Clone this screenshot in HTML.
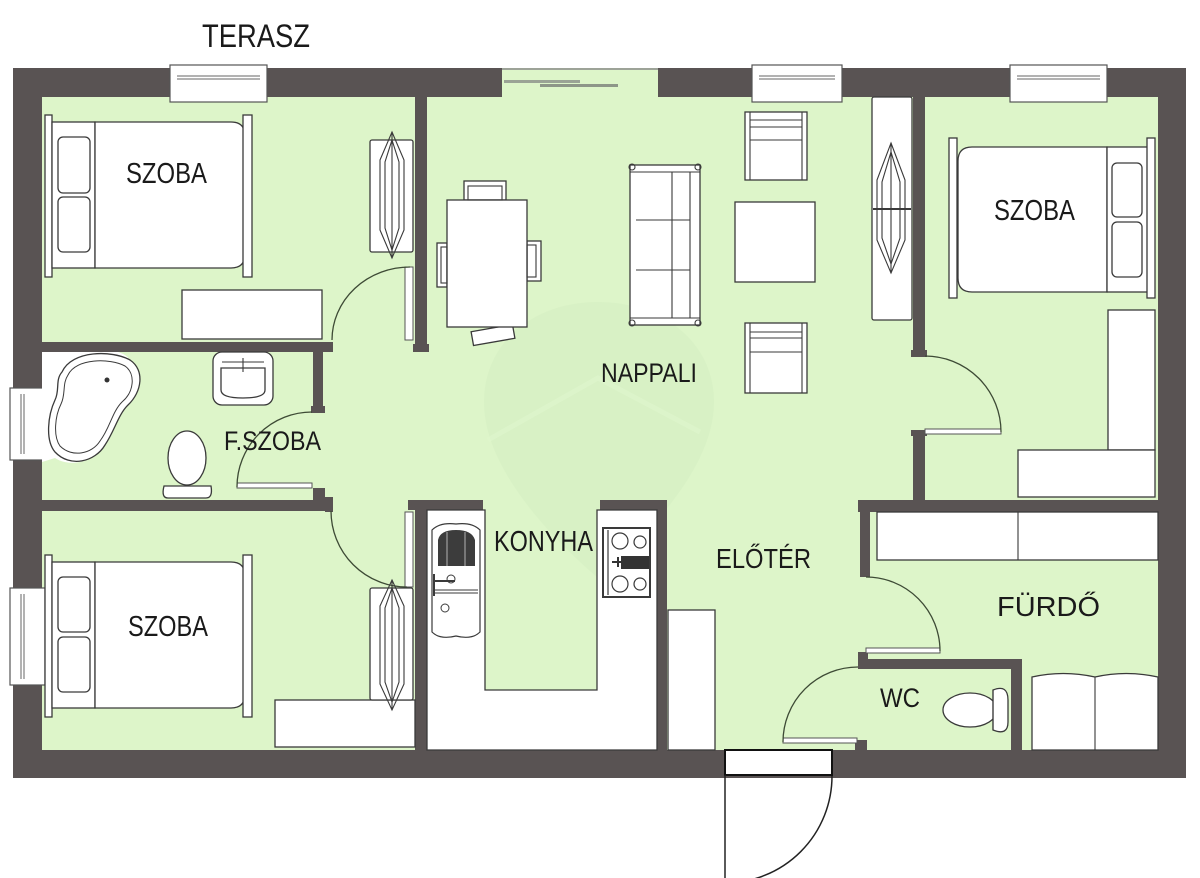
<!DOCTYPE html>
<html><head><meta charset="utf-8"><style>
html,body{margin:0;padding:0;background:#fff;}
svg{display:block;}
text{font-family:"Liberation Sans",sans-serif;fill:#1a1a1a;}
</style></head><body>
<svg width="1200" height="878" viewBox="0 0 1200 878" xmlns="http://www.w3.org/2000/svg">
<rect x="0" y="0" width="1200" height="878" fill="#fff"/>
<!-- outer wall + interior -->
<rect x="13" y="68" width="1173" height="710" fill="#595353"/>
<rect x="42" y="97" width="1116" height="653" fill="#ddf5c9"/>
<!-- watermark -->
<path d="M598,302 C662,302 714,342 714,402 C714,470 642,540 598,578 C554,540 484,470 484,402 C484,342 534,302 598,302 Z" fill="#d6efc3" opacity="0.7"/>
<path d="M488,440 L598,378 L700,432" fill="none" stroke="#e0f6cd" stroke-width="5" opacity="0.6"/>

<!-- top wall openings -->
<rect x="502" y="66" width="156" height="31" fill="#ddf5c9"/>
<rect x="0" y="60" width="1200" height="8" fill="#fff"/>
<line x1="502" y1="69" x2="658" y2="69" stroke="#888" stroke-width="1.5"/>
<rect x="504" y="80" width="76" height="3" fill="#9aa395"/>
<rect x="540" y="84" width="78" height="3" fill="#8d9688"/>
<g fill="#fff" stroke="#555" stroke-width="1.2">
<rect x="170" y="65" width="97" height="37"/>
<rect x="752" y="65" width="90" height="37"/>
<rect x="1010" y="65" width="97" height="37"/>
</g>
<g stroke="#666" stroke-width="1">
<line x1="177" y1="76" x2="260" y2="76"/><line x1="177" y1="79" x2="260" y2="79"/>
<line x1="759" y1="76" x2="835" y2="76"/><line x1="759" y1="79" x2="835" y2="79"/>
<line x1="1017" y1="76" x2="1100" y2="76"/><line x1="1017" y1="79" x2="1100" y2="79"/>
</g>
<g fill="#fff" stroke="#555" stroke-width="1.2">
<rect x="10" y="388" width="35" height="72"/>
<rect x="10" y="588" width="35" height="97"/>
</g>
<g stroke="#666" stroke-width="1">
<line x1="21" y1="394" x2="21" y2="454"/><line x1="24" y1="394" x2="24" y2="454"/>
<line x1="21" y1="594" x2="21" y2="679"/><line x1="24" y1="594" x2="24" y2="679"/>
</g>
<!-- entrance -->
<rect x="725" y="750" width="107" height="25" fill="#fff" stroke="#111" stroke-width="2"/>
<line x1="725" y1="775" x2="725" y2="878" stroke="#222" stroke-width="1.5"/>
<path d="M832,776 A107,107 0 0 1 725,883" fill="none" stroke="#222" stroke-width="1.5"/>

<!-- interior walls -->
<g fill="#595353">
<rect x="415" y="97" width="12" height="253"/>
<rect x="413" y="344" width="16" height="8"/>
<rect x="42" y="342" width="288" height="10"/>
<rect x="313" y="342" width="20" height="10"/>
<rect x="313" y="352" width="10" height="60"/>
<rect x="311" y="406" width="14" height="7"/>
<rect x="42" y="500" width="288" height="11"/>
<rect x="313" y="488" width="12" height="12"/>
<rect x="325" y="497" width="8" height="15"/>
<rect x="408" y="500" width="75" height="10"/>
<rect x="415" y="500" width="12" height="250"/>
<rect x="600" y="500" width="67" height="10"/>
<rect x="657" y="500" width="10" height="250"/>
<rect x="913" y="97" width="12" height="258"/>
<rect x="911" y="350" width="16" height="7"/>
<rect x="913" y="432" width="12" height="70"/>
<rect x="911" y="430" width="16" height="6"/>
<rect x="858" y="500" width="300" height="12"/>
<rect x="860" y="500" width="10" height="77"/>
<rect x="858" y="652" width="10" height="17"/>
<rect x="858" y="659" width="164" height="10"/>
<rect x="1011" y="659" width="11" height="91"/>
<rect x="855" y="740" width="12" height="10"/>
</g>

<!-- doors -->
<g fill="#fff" stroke="#555" stroke-width="1">
<rect x="405" y="267" width="8" height="73"/>
<rect x="237" y="483" width="75" height="5"/>
<rect x="405" y="512" width="8" height="75"/>
<rect x="925" y="429" width="76" height="5"/>
<rect x="866" y="648" width="74" height="5"/>
<rect x="783" y="738" width="74" height="5"/>
</g>
<g fill="none" stroke="#3d4a35" stroke-width="1.3">
<path d="M410,267 A78,73 0 0 0 332,340"/>
<path d="M312,412 A75,75 0 0 0 237,487"/>
<path d="M331,511 A76,76 0 0 0 407,587"/>
<path d="M925,356 A76,76 0 0 1 1001,432"/>
<path d="M866,577 A74,74 0 0 1 940,651"/>
<path d="M858,667 A75,75 0 0 0 783,742"/>
</g>

<!-- furniture -->
<g fill="#fff" stroke="#3a3a3a" stroke-width="1.3">
<rect x="45" y="115" width="7" height="162"/>
<rect x="52" y="122" width="43" height="146"/>
<path d="M95,122 H231 Q245,122 245,136 V254 Q245,268 231,268 H95 Z"/>
<rect x="243" y="115" width="9" height="162"/>
<rect x="58" y="137" width="32" height="56" rx="5"/>
<rect x="58" y="197" width="32" height="55" rx="5"/>
<rect x="182" y="290" width="140" height="49"/>
<rect x="370" y="140" width="43" height="112" rx="2"/>
<rect x="45" y="555" width="7" height="162"/>
<rect x="52" y="562" width="43" height="146"/>
<path d="M95,562 H231 Q245,562 245,576 V694 Q245,708 231,708 H95 Z"/>
<rect x="243" y="555" width="9" height="162"/>
<rect x="58" y="577" width="32" height="55" rx="5"/>
<rect x="58" y="637" width="32" height="55" rx="5"/>
<rect x="275" y="700" width="140" height="47"/>
<rect x="370" y="588" width="43" height="112" rx="2"/>
<rect x="949" y="138" width="8" height="160"/>
<path d="M1107,147 H972 Q958,147 958,161 V278 Q958,292 972,292 H1107 Z"/>
<rect x="1107" y="147" width="41" height="145"/>
<rect x="1147" y="138" width="8" height="160"/>
<rect x="1112" y="163" width="30" height="54" rx="5"/>
<rect x="1112" y="222" width="30" height="55" rx="5"/>
<rect x="1108" y="310" width="47" height="140"/>
<rect x="1018" y="450" width="137" height="47"/>
<rect x="872" y="97" width="40" height="223" rx="2"/>
<rect x="464" y="181" width="42" height="19"/>
<rect x="437" y="243" width="10" height="44"/>
<rect x="527" y="241" width="14" height="40"/>
<rect x="472" y="328" width="42" height="14" transform="rotate(-10 493 335)"/>
<rect x="447" y="200" width="80" height="127"/>
<rect x="630" y="165" width="70" height="160"/>
<rect x="745" y="112" width="62" height="68"/>
<rect x="745" y="323" width="62" height="70"/>
<rect x="735" y="202" width="80" height="80"/>
<path d="M427,510 H485 V690 H597 V510 H657 V750 H427 Z"/>
<rect x="668" y="610" width="47" height="140"/>
<rect x="877" y="512" width="281" height="48"/>
<path d="M1032,677 Q1063,670 1095,677 Q1126,670 1158,677 V750 H1032 Z"/>
<rect x="213" y="352" width="60" height="53" rx="9"/>
<path d="M221,368 H265 V390 Q265,398 243,398 Q221,398 221,390 Z"/>
<ellipse cx="187" cy="458" rx="19" ry="27"/>
<path d="M164,486 H211 Q213,498 206,498 H168 Q161,498 164,486 Z"/>
<ellipse cx="970" cy="710" rx="27" ry="17"/>
<path d="M993,690 Q1008,684 1008,700 V722 Q1008,736 993,730 Z"/>
<rect x="603" y="528" width="47" height="69" stroke-width="2"/>
</g>
<g fill="none" stroke="#3a3a3a" stroke-width="1.1">
<line x1="630" y1="172" x2="700" y2="172"/>
<line x1="630" y1="318" x2="700" y2="318"/>
<line x1="690" y1="172" x2="690" y2="318"/>
<line x1="672" y1="172" x2="672" y2="318"/>
<line x1="636" y1="220" x2="690" y2="220"/>
<line x1="636" y1="270" x2="690" y2="270"/>
<circle cx="632" cy="167" r="3"/><circle cx="698" cy="167" r="3"/>
<circle cx="632" cy="323" r="3"/><circle cx="698" cy="323" r="3"/>
<line x1="750" y1="112" x2="750" y2="180"/><line x1="802" y1="112" x2="802" y2="180"/>
<line x1="750" y1="120" x2="802" y2="120"/><line x1="750" y1="127" x2="802" y2="127"/><line x1="750" y1="140" x2="802" y2="140"/>
<line x1="750" y1="323" x2="750" y2="393"/><line x1="802" y1="323" x2="802" y2="393"/>
<line x1="750" y1="332" x2="802" y2="332"/><line x1="750" y1="338" x2="802" y2="338"/><line x1="750" y1="352" x2="802" y2="352"/>
<rect x="468" y="186" width="34" height="14"/>
<rect x="441" y="247" width="6" height="36"/>
<rect x="527" y="245" width="9" height="32"/>
<polygon points="891,143 905,180 905,240 891,273 877,240 877,180"/>
<polygon points="891,152 900,182 900,238 891,264 882,238 882,182"/>
<line x1="891" y1="143" x2="891" y2="273"/>
<line x1="873" y1="209" x2="911" y2="209" stroke-width="2"/>
<polygon points="392,132 404,160 404,230 392,258 380,230 380,160"/>
<polygon points="392,140 399,162 399,228 392,250 385,228 385,162"/>
<line x1="392" y1="132" x2="392" y2="258"/>
<polygon points="392,580 404,606 404,684 392,710 380,684 380,606"/>
<polygon points="392,588 399,608 399,682 392,702 385,682 385,608"/>
<line x1="392" y1="580" x2="392" y2="710"/>
<line x1="1018" y1="512" x2="1018" y2="560"/>
<line x1="1095" y1="677" x2="1095" y2="750"/>
<line x1="222" y1="362" x2="264" y2="362"/>
<line x1="243" y1="358" x2="243" y2="372"/>
<line x1="164" y1="486" x2="211" y2="486"/>
<line x1="993" y1="690" x2="993" y2="730"/>
</g>
<!-- bath tub -->
<path d="M42,352 H118 C140,358 146,392 128,405 C118,415 115,430 105,445 C95,462 70,468 55,458 L42,462 Z" fill="#fff"/>
<path d="M62,372 C72,350 112,350 130,360 C145,370 142,392 128,405 C118,415 115,430 105,445 C95,462 70,468 55,452 C45,440 48,415 55,400 C60,390 55,380 62,372 Z" fill="#fff" stroke="#3a3a3a" stroke-width="1.3"/>
<path d="M68,375 C76,358 110,358 125,366 C136,374 134,392 122,402 C112,412 110,428 100,441 C92,454 72,458 60,446 C53,436 55,416 61,404 C66,394 62,384 68,375 Z" fill="none" stroke="#3a3a3a" stroke-width="1"/>
<circle cx="107" cy="380" r="2.5" fill="#333"/>
<!-- kitchen sink -->
<path d="M432,530 Q440,522 456,524 Q472,522 480,530 V632 Q472,640 456,636 Q440,640 432,632 Z" fill="#fff" stroke="#3a3a3a" stroke-width="1.2"/>
<path d="M438,566 V540 Q440,530 456,530 Q472,530 475,540 V566 Z" fill="#3c3c3c"/>
<line x1="447" y1="532" x2="447" y2="566" stroke="#777" stroke-width="2"/>
<line x1="465" y1="532" x2="465" y2="566" stroke="#777" stroke-width="2"/>
<line x1="434" y1="590" x2="478" y2="590" stroke="#3a3a3a" stroke-width="1"/>
<line x1="434" y1="593" x2="478" y2="593" stroke="#3a3a3a" stroke-width="1"/>
<line x1="434" y1="581" x2="455" y2="581" stroke="#3a3a3a" stroke-width="2"/>
<line x1="434" y1="574" x2="434" y2="596" stroke="#3a3a3a" stroke-width="2"/>
<circle cx="451" cy="579" r="4" fill="none" stroke="#3a3a3a"/>
<circle cx="445" cy="608" r="4" fill="none" stroke="#3a3a3a"/>
<g fill="none" stroke="#3a3a3a" stroke-width="1.2">
<line x1="608" y1="530" x2="608" y2="595"/>
<circle cx="620" cy="541" r="8"/><circle cx="640" cy="542" r="6"/>
<circle cx="620" cy="584" r="8"/><circle cx="640" cy="584" r="6"/>
</g>
<rect x="621" y="556" width="28" height="13" fill="#333"/>
<path d="M612,562 H624 M618,557 V567" stroke="#333" stroke-width="2"/>

<!-- labels -->
<text x="202" y="47" font-size="32" textLength="108" lengthAdjust="spacingAndGlyphs">TERASZ</text>
<text x="126" y="183" font-size="29" textLength="81" lengthAdjust="spacingAndGlyphs">SZOBA</text>
<text x="994" y="220" font-size="29" textLength="81" lengthAdjust="spacingAndGlyphs">SZOBA</text>
<text x="128" y="636" font-size="29" textLength="80" lengthAdjust="spacingAndGlyphs">SZOBA</text>
<text x="224" y="450" font-size="27" textLength="97" lengthAdjust="spacingAndGlyphs">F.SZOBA</text>
<text x="601" y="382" font-size="27" textLength="96" lengthAdjust="spacingAndGlyphs">NAPPALI</text>
<text x="494" y="551" font-size="29" textLength="99" lengthAdjust="spacingAndGlyphs">KONYHA</text>
<text x="716" y="568" font-size="28" textLength="95" lengthAdjust="spacingAndGlyphs">ELŐTÉR</text>
<text x="997" y="616" font-size="28" textLength="103" lengthAdjust="spacingAndGlyphs">FÜRDŐ</text>
<text x="880" y="707" font-size="27" textLength="40" lengthAdjust="spacingAndGlyphs">WC</text>
</svg>
</body></html>
